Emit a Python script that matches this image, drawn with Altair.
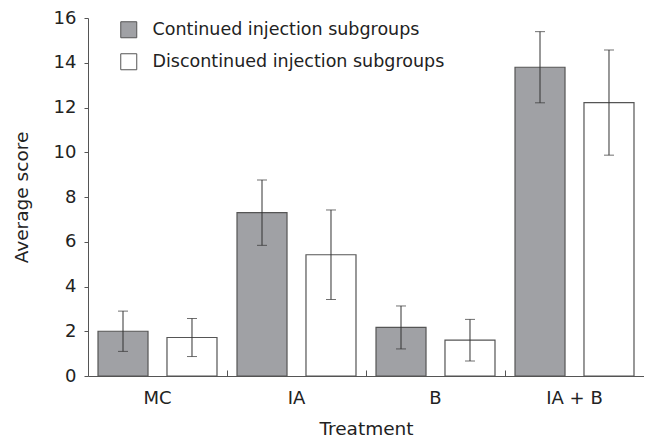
import altair as alt
import pandas as pd

treatments = ["MC", "IA", "B", "IA + B"]
groups = ["Continued injection subgroups", "Discontinued injection subgroups"]
continued = [2.0, 7.3, 2.17, 13.8]
continued_err = [0.9, 1.46, 0.96, 1.59]
discontinued = [1.72, 5.42, 1.6, 12.22]
discontinued_err = [0.85, 2.0, 0.93, 2.35]

rows = []
for t, v, e in zip(treatments, continued, continued_err):
    rows.append({"treatment": t, "group": groups[0], "value": v, "low": v - e, "high": v + e})
for t, v, e in zip(treatments, discontinued, discontinued_err):
    rows.append({"treatment": t, "group": groups[1], "value": v, "low": v - e, "high": v + e})
df = pd.DataFrame(rows)

FONT = "DejaVu Sans"
AXC = "#555555"
H = 358

xscale = alt.Scale(paddingInner=0, paddingOuter=0)
offscale = alt.Scale(domain=groups, paddingInner=0.275, paddingOuter=0.145)

base = alt.Chart(df)

bars = base.mark_bar(stroke="#555555", strokeWidth=1.2).encode(
    x=alt.X("treatment:N", sort=treatments, scale=xscale,
            axis=alt.Axis(title="Treatment", labelAngle=0, ticks=False,
                          labelPadding=13, titlePadding=12, domainColor=AXC)),
    xOffset=alt.XOffset("group:N", sort=groups, scale=offscale),
    y=alt.Y("value:Q", scale=alt.Scale(domain=[0, 16], nice=False),
            axis=alt.Axis(title="Average score", values=list(range(0, 17, 2)),
                          grid=False, tickSize=4, tickColor=AXC, domainColor=AXC,
                          labelPadding=8, titlePadding=22)),
    color=alt.Color("group:N", sort=groups,
                    scale=alt.Scale(domain=groups, range=["#a0a1a5", "#ffffff"]),
                    legend=alt.Legend(title=None, orient="none", legendX=32, legendY=3,
                                      symbolType="square", symbolSize=256,
                                      symbolStrokeColor="#555555", symbolStrokeWidth=1,
                                      labelFontSize=17.5, labelFont=FONT, labelColor="#222222",
                                      labelOffset=15, rowPadding=11, labelLimit=400)),
)

rules = base.mark_rule(color="#333333", strokeWidth=1).encode(
    x=alt.X("treatment:N", sort=treatments, scale=xscale,
            axis=alt.Axis(orient="top", offset=-H, labels=False, title=None, domain=False,
                          ticks=True, tickSize=6, tickColor=AXC, bandPosition=1)),
    xOffset=alt.XOffset("group:N", sort=groups, scale=offscale),
    y="low:Q",
    y2="high:Q",
)

caps_lo = base.mark_tick(color="#333333", size=10, thickness=1).encode(
    x=alt.X("treatment:N", sort=treatments, scale=xscale, axis=None),
    xOffset=alt.XOffset("group:N", sort=groups, scale=offscale),
    y="low:Q",
)
caps_hi = base.mark_tick(color="#333333", size=10, thickness=1).encode(
    x=alt.X("treatment:N", sort=treatments, scale=xscale, axis=None),
    xOffset=alt.XOffset("group:N", sort=groups, scale=offscale),
    y="high:Q",
)

chart = alt.layer(bars, rules, caps_lo, caps_hi).resolve_axis(x="independent").properties(
    width=556, height=H,
    autosize=alt.AutoSizeParams(type="none"),
    padding={"left": 80, "top": 10, "right": 0, "bottom": 66},
).configure_axis(
    labelFont=FONT, titleFont=FONT, labelFontSize=18, titleFontSize=18.5,
    labelColor="#222222", titleColor="#222222", titleFontWeight="normal",
).configure_view(stroke=None)

chart.save("out.html", embed_options={"renderer": "svg", "actions": False})
